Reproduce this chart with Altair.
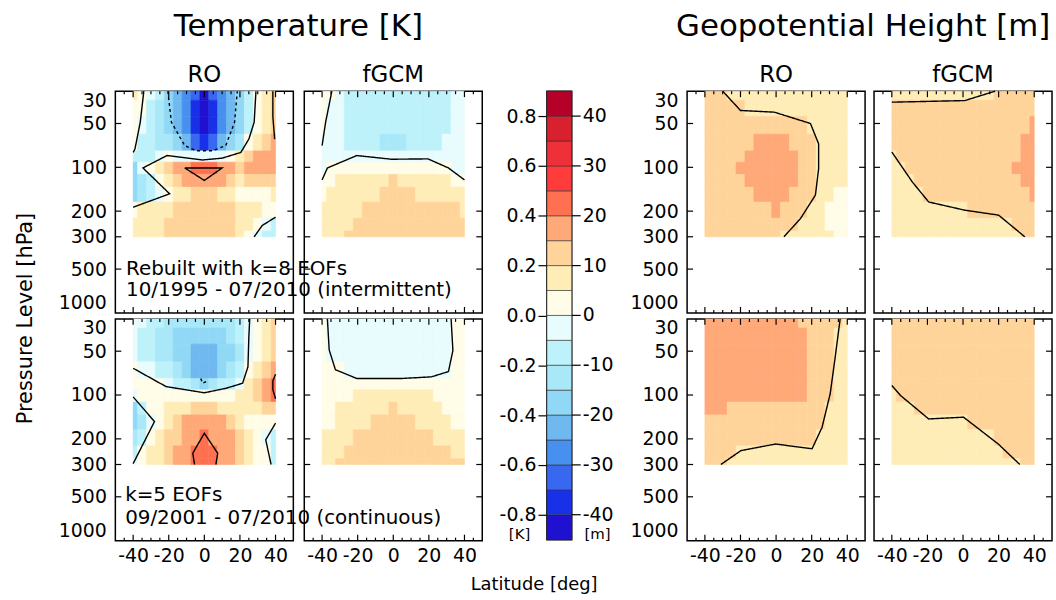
import altair as alt
import numpy as np
import pandas as pd

FONT = "DejaVu Sans"
W, H, GAP = 179, 223, 5
CB_W = 25

# ---- grid nodes ----
LATS = [-40, -35, -30, -25, -20, -15, -10, -5, 0, 5, 10, 15, 20, 25, 30, 35, 40]
PLEV = [30, 40, 50, 70, 85, 100, 125, 150, 200, 250, 300]

X_MAJOR = [-40, -20, 0, 20, 40]
X_MINOR = [-45, -35, -30, -25, -15, -10, -5, 5, 10, 15, 25, 30, 35, 45]
Y_MAJOR = [50, 100, 200, 300, 500]
Y_LABELS = [30, 50, 100, 200, 300, 500, 1000]

K_EDGES = [-0.9, -0.8, -0.7, -0.6, -0.5, -0.4, -0.3, -0.2, -0.1, 0.0,
           0.1, 0.2, 0.3, 0.4, 0.5, 0.6, 0.7, 0.8, 0.9]
M_EDGES = [-45, -40, -35, -30, -25, -20, -15, -10, -5, 0,
           5, 10, 15, 20, 25, 30, 35, 40, 45]
K_TICKS = [-0.8, -0.6, -0.4, -0.2, 0.0, 0.2, 0.4, 0.6, 0.8]
M_TICKS = [-40, -30, -20, -10, 0, 10, 20, 30, 40]
COLORS = ["#2010D0", "#1830E8", "#3868F0", "#4890F0", "#70B8F0", "#90D8F5",
          "#A8E8F8", "#BEF2FA", "#E8FCFE", "#FFFCE8", "#FFEDB8", "#FFD49A",
          "#FFA878", "#FF7050", "#FF3B3B", "#F03038", "#D8202F", "#B5002A"]

# ---- Temperature [K]; rows = PLEV, cols = LATS ----
T_RO_K8 = [
    [0.15, 0.05, -0.05, -0.15, -0.35, -0.45, -0.55, -0.65, -0.85, -0.65, -0.55, -0.45, -0.35, -0.15, 0.05, 0.15, 0.25],
    [0.05, 0.02, -0.15, -0.25, -0.35, -0.45, -0.55, -0.75, -0.85, -0.75, -0.55, -0.45, -0.35, -0.15, 0.05, 0.15, 0.25],
    [0.05, -0.05, -0.15, -0.25, -0.35, -0.45, -0.55, -0.75, -0.85, -0.75, -0.55, -0.45, -0.35, -0.15, 0.05, 0.15, 0.25],
    [0.02, -0.15, -0.15, -0.25, -0.25, -0.35, -0.45, -0.65, -0.75, -0.65, -0.45, -0.35, -0.25, 0.05, 0.15, 0.25, 0.35],
    [-0.15, -0.15, -0.15, -0.05, 0.05, -0.02, -0.05, -0.05, -0.05, -0.05, -0.02, 0.02, 0.15, 0.25, 0.35, 0.35, 0.35],
    [-0.35, -0.05, 0.05, 0.15, 0.25, 0.35, 0.35, 0.45, 0.45, 0.45, 0.35, 0.35, 0.25, 0.35, 0.35, 0.35, 0.35],
    [-0.35, -0.25, -0.15, 0.05, 0.15, 0.25, 0.35, 0.35, 0.35, 0.35, 0.35, 0.25, 0.15, 0.25, 0.25, 0.25, 0.25],
    [-0.35, -0.25, -0.15, -0.05, 0.02, 0.15, 0.15, 0.25, 0.25, 0.25, 0.15, 0.15, 0.05, 0.05, 0.05, 0.05, 0.15],
    [0.05, 0.15, 0.15, 0.15, 0.15, 0.25, 0.25, 0.25, 0.25, 0.25, 0.25, 0.25, 0.15, 0.15, 0.15, 0.05, 0.02],
    [0.15, 0.15, 0.15, 0.15, 0.25, 0.25, 0.25, 0.25, 0.25, 0.25, 0.25, 0.25, 0.15, 0.15, 0.05, -0.05, -0.15],
    [0.15, 0.15, 0.15, 0.15, 0.25, 0.25, 0.25, 0.25, 0.25, 0.25, 0.25, 0.25, 0.15, 0.05, -0.05, -0.15, -0.15],
]
T_FG_K8 = [
    [0.05, 0.02, -0.05, -0.15, -0.15, -0.15, -0.15, -0.15, -0.15, -0.15, -0.15, -0.15, -0.15, -0.15, -0.15, -0.05, -0.05],
    [0.05, -0.02, -0.05, -0.15, -0.15, -0.15, -0.15, -0.15, -0.15, -0.15, -0.15, -0.15, -0.15, -0.15, -0.15, -0.05, -0.05],
    [0.02, -0.05, -0.05, -0.15, -0.15, -0.15, -0.15, -0.15, -0.15, -0.15, -0.15, -0.15, -0.15, -0.15, -0.15, -0.05, -0.05],
    [-0.02, -0.05, -0.05, -0.15, -0.15, -0.15, -0.15, -0.25, -0.25, -0.25, -0.15, -0.15, -0.15, -0.15, -0.05, -0.05, -0.05],
    [-0.05, -0.05, -0.05, -0.05, -0.02, -0.05, -0.05, -0.05, -0.05, -0.05, -0.05, -0.05, -0.05, -0.05, -0.05, -0.05, -0.05],
    [-0.02, 0.02, 0.05, 0.05, 0.05, 0.05, 0.05, 0.05, 0.05, 0.05, 0.05, 0.05, 0.05, 0.05, 0.02, -0.05, -0.05],
    [0.02, 0.05, 0.15, 0.15, 0.15, 0.15, 0.15, 0.15, 0.25, 0.15, 0.15, 0.15, 0.15, 0.15, 0.15, 0.05, 0.02],
    [0.05, 0.15, 0.15, 0.15, 0.15, 0.15, 0.15, 0.25, 0.25, 0.25, 0.25, 0.15, 0.15, 0.15, 0.15, 0.15, 0.15],
    [0.15, 0.15, 0.15, 0.15, 0.15, 0.25, 0.25, 0.25, 0.25, 0.25, 0.25, 0.25, 0.25, 0.25, 0.25, 0.25, 0.15],
    [0.15, 0.15, 0.15, 0.15, 0.25, 0.25, 0.25, 0.25, 0.25, 0.25, 0.25, 0.25, 0.25, 0.25, 0.25, 0.25, 0.25],
    [0.15, 0.15, 0.15, 0.25, 0.25, 0.25, 0.25, 0.25, 0.25, 0.25, 0.25, 0.25, 0.25, 0.25, 0.25, 0.25, 0.25],
]
T_RO_K5 = [
    [-0.05, -0.05, -0.15, -0.15, -0.25, -0.25, -0.25, -0.25, -0.25, -0.25, -0.25, -0.25, -0.15, -0.02, 0.05, 0.15, 0.25],
    [-0.05, -0.15, -0.15, -0.25, -0.25, -0.35, -0.35, -0.35, -0.35, -0.35, -0.35, -0.25, -0.15, -0.02, 0.05, 0.15, 0.25],
    [-0.05, -0.15, -0.15, -0.25, -0.25, -0.35, -0.35, -0.45, -0.45, -0.45, -0.35, -0.35, -0.25, -0.02, 0.05, 0.15, 0.25],
    [0.02, -0.02, -0.05, -0.15, -0.15, -0.25, -0.35, -0.45, -0.45, -0.45, -0.35, -0.25, -0.15, 0.05, 0.15, 0.25, 0.35],
    [0.05, 0.05, 0.05, 0.02, -0.05, -0.15, -0.15, -0.25, -0.35, -0.25, -0.15, -0.15, -0.02, 0.15, 0.25, 0.35, 0.45],
    [-0.02, 0.05, 0.05, 0.05, 0.05, 0.05, 0.05, 0.05, 0.02, 0.05, 0.05, 0.05, 0.15, 0.15, 0.25, 0.35, 0.45],
    [-0.35, -0.15, 0.05, 0.05, 0.15, 0.15, 0.15, 0.25, 0.25, 0.25, 0.15, 0.15, 0.15, 0.15, 0.15, 0.25, 0.25],
    [-0.35, -0.25, -0.05, 0.05, 0.15, 0.25, 0.35, 0.35, 0.35, 0.35, 0.35, 0.25, 0.15, 0.05, 0.05, 0.05, 0.02],
    [-0.25, -0.15, 0.05, 0.15, 0.25, 0.25, 0.35, 0.35, 0.45, 0.35, 0.35, 0.35, 0.25, 0.15, 0.05, -0.02, -0.15],
    [-0.15, 0.05, 0.15, 0.15, 0.25, 0.35, 0.35, 0.45, 0.45, 0.45, 0.35, 0.35, 0.25, 0.15, 0.05, 0.02, -0.15],
    [-0.02, 0.05, 0.15, 0.15, 0.25, 0.35, 0.35, 0.45, 0.45, 0.45, 0.35, 0.35, 0.25, 0.15, 0.05, 0.05, -0.15],
]
T_FG_K5 = [
    [0.05, -0.05, -0.05, -0.05, -0.05, -0.05, -0.05, -0.05, -0.05, -0.05, -0.05, -0.05, -0.05, -0.05, -0.05, 0.05, 0.05],
    [0.05, -0.05, -0.05, -0.05, -0.05, -0.05, -0.05, -0.05, -0.05, -0.05, -0.05, -0.05, -0.05, -0.05, -0.05, 0.05, 0.05],
    [0.05, -0.02, -0.05, -0.05, -0.05, -0.05, -0.05, -0.05, -0.05, -0.05, -0.05, -0.05, -0.05, -0.05, -0.05, 0.02, 0.05],
    [0.05, 0.05, 0.02, -0.02, -0.05, -0.05, -0.05, -0.05, -0.05, -0.05, -0.05, -0.05, -0.05, -0.05, -0.02, 0.05, 0.05],
    [0.05, 0.05, 0.05, 0.05, 0.05, 0.05, 0.05, 0.05, 0.05, 0.05, 0.05, 0.05, 0.05, 0.05, 0.05, 0.05, 0.05],
    [0.05, 0.05, 0.05, 0.05, 0.15, 0.15, 0.15, 0.15, 0.15, 0.15, 0.15, 0.15, 0.15, 0.05, 0.05, 0.05, 0.05],
    [0.05, 0.05, 0.15, 0.15, 0.15, 0.15, 0.15, 0.15, 0.25, 0.15, 0.15, 0.15, 0.15, 0.15, 0.05, 0.05, 0.05],
    [0.05, 0.05, 0.15, 0.15, 0.15, 0.15, 0.25, 0.25, 0.25, 0.25, 0.25, 0.15, 0.15, 0.15, 0.15, 0.05, 0.05],
    [0.15, 0.15, 0.15, 0.15, 0.25, 0.25, 0.25, 0.25, 0.25, 0.25, 0.25, 0.25, 0.25, 0.15, 0.15, 0.15, 0.15],
    [0.15, 0.15, 0.15, 0.25, 0.25, 0.25, 0.25, 0.25, 0.25, 0.25, 0.25, 0.25, 0.25, 0.25, 0.25, 0.15, 0.15],
    [0.15, 0.15, 0.25, 0.25, 0.25, 0.25, 0.25, 0.25, 0.25, 0.25, 0.25, 0.25, 0.25, 0.25, 0.25, 0.25, 0.25],
]

# ---- Geopotential height [m] ----
G_RO_K8 = [
    [12.5, 12.5, 10.2, 7.5, 7.5, 7.5, 7.5, 7.5, 7.5, 7.5, 7.5, 7.5, 7.5, 7.5, 7.5, 7.5, 7.5],
    [12.5, 12.5, 12.5, 12.5, 10.2, 7.5, 7.5, 7.5, 7.5, 7.5, 7.5, 7.5, 7.5, 7.5, 7.5, 7.5, 7.5],
    [12.5, 12.5, 12.5, 12.5, 12.5, 12.5, 12.5, 12.5, 12.5, 12.5, 12.5, 12.5, 9.8, 7.5, 7.5, 7.5, 7.5],
    [12.5, 12.5, 12.5, 12.5, 12.5, 12.5, 17.5, 17.5, 17.5, 15.2, 12.5, 12.5, 12.5, 7.5, 7.5, 7.5, 7.5],
    [12.5, 12.5, 12.5, 12.5, 14.8, 17.5, 17.5, 17.5, 17.5, 17.5, 15.2, 12.5, 12.5, 7.5, 7.5, 7.5, 7.5],
    [12.5, 12.5, 12.5, 12.5, 17.5, 17.5, 17.5, 17.5, 17.5, 17.5, 15.2, 12.5, 12.5, 7.5, 7.5, 7.5, 7.5],
    [12.5, 12.5, 12.5, 12.5, 14.8, 17.5, 17.5, 17.5, 17.5, 17.5, 15.2, 12.5, 12.5, 7.5, 7.5, 7.5, 7.5],
    [12.5, 12.5, 12.5, 12.5, 12.5, 12.5, 17.5, 17.5, 17.5, 17.5, 12.5, 12.5, 12.5, 7.5, 7.5, 2.5, 2.5],
    [12.5, 12.5, 12.5, 12.5, 12.5, 12.5, 12.5, 12.5, 15.2, 12.5, 12.5, 10.2, 7.5, 7.5, 2.5, 2.5, 2.5],
    [12.5, 12.5, 12.5, 12.5, 12.5, 12.5, 12.5, 12.5, 12.5, 12.5, 10.2, 7.5, 7.5, 7.5, 2.5, 2.5, 2.5],
    [12.5, 12.5, 12.5, 12.5, 12.5, 12.5, 12.5, 12.5, 12.5, 9.8, 7.5, 7.5, 7.5, 7.5, 7.5, 2.5, 2.5],
]
G_FG_K8 = [
    [7.5, 7.5, 7.5, 7.5, 7.5, 7.5, 7.5, 7.5, 7.5, 7.5, 7.5, 7.5, 12.5, 12.5, 12.5, 12.5, 12.5],
    [12.5, 12.5, 12.5, 12.5, 12.5, 12.5, 12.5, 12.5, 12.5, 12.5, 12.5, 12.5, 12.5, 12.5, 12.5, 12.5, 12.5],
    [12.5, 12.5, 12.5, 12.5, 12.5, 12.5, 12.5, 12.5, 12.5, 12.5, 12.5, 12.5, 12.5, 12.5, 12.5, 12.5, 15.2],
    [10.2, 12.5, 12.5, 12.5, 12.5, 12.5, 12.5, 12.5, 12.5, 12.5, 12.5, 12.5, 12.5, 12.5, 12.5, 15.2, 17.5],
    [9.8, 12.5, 12.5, 12.5, 12.5, 12.5, 12.5, 12.5, 12.5, 12.5, 12.5, 12.5, 12.5, 12.5, 12.5, 17.5, 17.5],
    [7.5, 9.8, 12.5, 12.5, 12.5, 12.5, 12.5, 12.5, 12.5, 12.5, 12.5, 12.5, 12.5, 12.5, 15.2, 17.5, 17.5],
    [7.5, 7.5, 9.8, 12.5, 12.5, 12.5, 12.5, 12.5, 12.5, 12.5, 12.5, 12.5, 12.5, 12.5, 12.5, 15.2, 17.5],
    [7.5, 7.5, 7.5, 9.8, 12.5, 12.5, 12.5, 12.5, 12.5, 12.5, 12.5, 12.5, 12.5, 12.5, 12.5, 12.5, 17.5],
    [7.5, 7.5, 7.5, 7.5, 7.5, 7.5, 7.5, 7.5, 9.8, 10.2, 12.5, 12.5, 12.5, 12.5, 12.5, 12.5, 12.5],
    [7.5, 7.5, 7.5, 7.5, 7.5, 7.5, 7.5, 7.5, 7.5, 7.5, 7.5, 7.5, 7.5, 9.8, 12.5, 12.5, 12.5],
    [7.5, 7.5, 7.5, 7.5, 7.5, 7.5, 7.5, 7.5, 7.5, 7.5, 7.5, 7.5, 7.5, 7.5, 7.5, 10.2, 12.5],
]
G_RO_K5 = [
    [17.5, 17.5, 17.5, 17.5, 17.5, 17.5, 17.5, 17.5, 17.5, 17.5, 15.2, 12.5, 12.5, 12.5, 12.5, 10.2, 7.5],
    [17.5, 17.5, 17.5, 17.5, 17.5, 17.5, 17.5, 17.5, 17.5, 17.5, 17.5, 15.2, 12.5, 12.5, 12.5, 9.8, 7.5],
    [17.5, 17.5, 17.5, 17.5, 17.5, 17.5, 17.5, 17.5, 17.5, 17.5, 17.5, 17.5, 14.8, 12.5, 12.5, 7.5, 7.5],
    [17.5, 17.5, 17.5, 17.5, 17.5, 17.5, 17.5, 17.5, 17.5, 17.5, 17.5, 17.5, 14.8, 12.5, 12.5, 7.5, 7.5],
    [17.5, 17.5, 17.5, 17.5, 17.5, 17.5, 17.5, 17.5, 17.5, 17.5, 17.5, 17.5, 14.8, 12.5, 10.2, 7.5, 7.5],
    [17.5, 17.5, 17.5, 17.5, 17.5, 17.5, 17.5, 17.5, 17.5, 17.5, 17.5, 15.2, 14.8, 12.5, 10.2, 7.5, 7.5],
    [17.5, 17.5, 15.2, 12.5, 12.5, 12.5, 12.5, 12.5, 12.5, 12.5, 12.5, 12.5, 12.5, 12.5, 7.5, 7.5, 7.5],
    [14.8, 12.5, 12.5, 12.5, 12.5, 12.5, 12.5, 12.5, 12.5, 12.5, 12.5, 12.5, 12.5, 10.2, 7.5, 7.5, 7.5],
    [12.5, 12.5, 12.5, 12.5, 12.5, 12.5, 12.5, 12.5, 12.5, 12.5, 12.5, 12.5, 12.5, 7.5, 7.5, 7.5, 7.5],
    [12.5, 12.5, 12.5, 12.5, 9.8, 7.5, 7.5, 7.5, 7.5, 7.5, 7.5, 7.5, 7.5, 7.5, 7.5, 7.5, 7.5],
    [12.5, 12.5, 10.2, 7.5, 7.5, 7.5, 7.5, 7.5, 7.5, 7.5, 7.5, 7.5, 7.5, 7.5, 7.5, 7.5, 7.5],
]
G_FG_K5 = [
    [12.5, 12.5, 12.5, 12.5, 12.5, 12.5, 12.5, 12.5, 12.5, 12.5, 12.5, 12.5, 12.5, 12.5, 12.5, 12.5, 12.5],
    [12.5, 12.5, 12.5, 12.5, 12.5, 12.5, 12.5, 12.5, 12.5, 12.5, 12.5, 12.5, 12.5, 12.5, 12.5, 12.5, 12.5],
    [12.5, 12.5, 12.5, 12.5, 12.5, 12.5, 12.5, 12.5, 12.5, 12.5, 12.5, 12.5, 12.5, 12.5, 12.5, 12.5, 12.5],
    [12.5, 12.5, 12.5, 12.5, 12.5, 12.5, 12.5, 12.5, 12.5, 12.5, 12.5, 12.5, 12.5, 12.5, 12.5, 12.5, 12.5],
    [10.2, 12.5, 12.5, 12.5, 12.5, 12.5, 12.5, 12.5, 12.5, 12.5, 12.5, 12.5, 12.5, 12.5, 12.5, 12.5, 12.5],
    [7.5, 10.2, 12.5, 12.5, 12.5, 12.5, 12.5, 12.5, 12.5, 12.5, 12.5, 12.5, 12.5, 12.5, 12.5, 12.5, 12.5],
    [7.5, 7.5, 9.8, 10.2, 12.5, 12.5, 12.5, 12.5, 12.5, 12.5, 12.5, 12.5, 12.5, 12.5, 12.5, 12.5, 12.5],
    [7.5, 7.5, 7.5, 7.5, 9.8, 9.8, 9.8, 9.8, 9.8, 10.2, 12.5, 12.5, 12.5, 12.5, 12.5, 12.5, 12.5],
    [7.5, 7.5, 7.5, 7.5, 7.5, 7.5, 7.5, 7.5, 7.5, 7.5, 9.8, 9.8, 10.2, 12.5, 12.5, 12.5, 12.5],
    [7.5, 7.5, 7.5, 7.5, 7.5, 7.5, 7.5, 7.5, 7.5, 7.5, 7.5, 7.5, 7.5, 10.2, 12.5, 12.5, 12.5],
    [7.5, 7.5, 7.5, 7.5, 7.5, 7.5, 7.5, 7.5, 7.5, 7.5, 7.5, 7.5, 7.5, 7.5, 9.8, 12.5, 12.5],
]

# ---- contour lines (lat, hPa) ----
A_LINES = [
    ("solid", [(-34, 30), (-36, 49), (-39, 75), (-40, 79)]),
    ("solid", [(29, 30), (28, 49), (25, 64), (20.5, 79), (10, 86.5), (-1, 89),
               (-21, 83), (-34.5, 101), (-19.5, 152), (-40, 188)]),
    ("dashed", [(-20.5, 30), (-18.5, 49), (-11, 71), (-4.5, 77), (4.5, 77),
                (12, 71), (17, 49), (18.5, 30)]),
    ("solid", [(-11, 101), (10, 101), (0, 123), (-11, 101)]),
    ("solid", [(28, 300), (32.5, 251), (40, 220)]),
    ("solid", [(38.5, 30), (38.5, 45), (39.5, 64)]),
]
B_LINES = [
    ("solid", [(-34.5, 30), (-38, 49), (-40, 71)]),
    ("solid", [(-40, 122), (-37, 101), (-20.5, 83), (-1, 88), (19.5, 87.5),
               (31, 101), (40, 122)]),
]
C_LINES = [
    ("solid", [(-40, 65.5), (-21.5, 87.5), (0, 96.5), (12, 90), (21.5, 83),
               (24.5, 64), (25, 40), (25.5, 30)]),
    ("solid", [(-40, 103), (-28, 152), (-40, 296)]),
    ("solid", [(-5.5, 300), (-6.5, 251), (0, 183), (7.5, 251), (6.5, 300)]),
    ("solid", [(40, 156), (34.5, 203), (37.5, 300)]),
    ("solid", [(40, 72), (38.5, 80), (38.5, 92), (40, 106)]),
    ("dashed", [(-2, 77), (-1, 83), (1, 81)]),
]
D_LINES = [
    ("solid", [(-37, 30), (-36, 49), (-32.5, 67), (-20.5, 77), (4.5, 77),
               (21.5, 75), (31, 69), (33.5, 49.5), (32.5, 30)]),
]
E_LINES = [
    ("solid", [(-30, 30), (-20, 40.7), (-1, 41.8), (19.3, 50), (23.9, 69),
               (23.9, 102), (22.1, 155), (13.7, 225), (4.4, 300)]),
]
F_LINES = [
    ("solid", [(-40, 35.7), (1, 34.8), (18, 30)]),
    ("solid", [(-40, 78.5), (-28.5, 126), (-19.3, 173), (1, 197), (20, 213),
               (34.7, 300)]),
]
G_LINES = [
    ("solid", [(-31, 300), (-19.8, 241), (-0.3, 217), (20.2, 234), (25.8, 167),
               (30.4, 98), (33.2, 55), (36, 30)]),
]
H_LINES = [
    ("solid", [(-40, 86), (-35, 101), (-19.3, 146), (0.3, 142), (19.8, 217),
               (31.9, 300)]),
]

NOTES_K8 = [(-44, 500, "Rebuilt with k=8 EOFs"),
            (-44, 700, "10/1995 - 07/2010 (intermittent)")]
NOTES_K5 = [(-44.5, 490, "k=5 EOFs"),
            (-44.5, 700, "09/2001 - 07/2010 (continuous)")]

MINUS = "\u2212"


def lat_edges():
    mids = [(a + b) / 2 for a, b in zip(LATS[:-1], LATS[1:])]
    return [LATS[0]] + mids + [LATS[-1]]


def p_edges():
    mids = [float(np.sqrt(a * b)) for a, b in zip(PLEV[:-1], PLEV[1:])]
    return [PLEV[0]] + mids + [PLEV[-1]]


def panel(grid, lines, kind, title=None, xlab=False, ylab=False, notes=None):
    le, pe = lat_edges(), p_edges()
    recs = []
    for i, row in enumerate(grid):
        for j, v in enumerate(row):
            recs.append({"lat0": le[j], "lat1": le[j + 1],
                         "p0": pe[i], "p1": pe[i + 1], "v": v})
    cells = pd.DataFrame(recs)
    thr = K_EDGES[1:-1] if kind == "T" else M_EDGES[1:-1]
    cscale = alt.Scale(type="threshold", domain=thr, range=COLORS)
    xs = alt.Scale(domain=[-50, 50], nice=False, zero=False)
    ys = alt.Scale(type="log", domain=[30, 1000], reverse=True, nice=False)
    if xlab:
        xa = alt.Axis(values=X_MAJOR, ticks=False, tickSize=0, domain=False,
                      grid=False, labelFont=FONT, labelFontSize=19,
                      labelColor="black", labelPadding=6, labelOverlap=False,
                      labelExpr="replace(datum.label, '%s', '-')" % MINUS,
                      title=None)
    else:
        xa = None
    if ylab:
        ya = alt.Axis(values=Y_LABELS, format="d", ticks=False, tickSize=0,
                      domain=False, grid=False, labelFont=FONT,
                      labelFontSize=19, labelColor="black", labelPadding=9,
                      labelOverlap=False, labelFlush=True, title=None)
    else:
        ya = None

    def X(f):
        return alt.X(f, type="quantitative", scale=xs, axis=xa)

    def Y(f):
        return alt.Y(f, type="quantitative", scale=ys, axis=ya)

    layers = [
        alt.Chart(cells).mark_rect(strokeWidth=0.6).encode(
            x=X("lat0"), x2="lat1", y=Y("p0"), y2="p1",
            color=alt.Color("v:Q", scale=cscale, legend=None),
            stroke=alt.Stroke("v:Q", scale=cscale, legend=None),
        )
    ]
    lrec = []
    for k, (style, pts) in enumerate(lines):
        for i, (la, p) in enumerate(pts):
            lrec.append({"id": k, "i": i, "lat": la, "p": p, "dash": style})
    layers.append(
        alt.Chart(pd.DataFrame(lrec)).mark_line(color="black", strokeWidth=1.4).encode(
            x=X("lat"), y=Y("p"), detail="id:N", order="i:Q",
            strokeDash=alt.StrokeDash("dash:N", scale=alt.Scale(
                domain=["solid", "dashed"], range=[[1, 0], [3, 3]]), legend=None),
        )
    )
    xmaj = pd.DataFrame({"lat": X_MAJOR})
    xmin = pd.DataFrame({"lat": X_MINOR})
    ymaj = pd.DataFrame({"p": Y_MAJOR})

    def rule(df):
        return alt.Chart(df).mark_rule(color="black", strokeWidth=1.2)

    layers += [
        rule(xmaj).encode(x=X("lat"), y=alt.value(H), y2=alt.value(H - 6)),
        rule(xmaj).encode(x=X("lat"), y=alt.value(0), y2=alt.value(6)),
        rule(xmin).encode(x=X("lat"), y=alt.value(H), y2=alt.value(H - 3)),
        rule(xmin).encode(x=X("lat"), y=alt.value(0), y2=alt.value(3)),
        rule(ymaj).encode(y=Y("p"), x=alt.value(0), x2=alt.value(6)),
        rule(ymaj).encode(y=Y("p"), x=alt.value(W), x2=alt.value(W - 6)),
    ]
    if notes:
        ndf = pd.DataFrame({"lat": [n[0] for n in notes],
                            "p": [n[1] for n in notes],
                            "t": [n[2] for n in notes]})
        layers.append(
            alt.Chart(ndf).mark_text(align="left", baseline="middle",
                                     font=FONT, fontSize=20, color="black").encode(
                x=X("lat"), y=Y("p"), text="t:N")
        )
    ch = alt.layer(*layers).properties(width=W, height=H)
    if title:
        ch = ch.properties(title=alt.TitleParams(
            title, font=FONT, fontSize=23, fontWeight="normal", color="black",
            frame="group", anchor="middle", offset=1))
    return ch


def indep(c):
    return c.resolve_scale(color="independent", stroke="independent")


A = panel(T_RO_K8, A_LINES, "T", title="RO", ylab=True, notes=NOTES_K8)
B = panel(T_FG_K8, B_LINES, "T", title="fGCM")
C = panel(T_RO_K5, C_LINES, "T", xlab=True, ylab=True, notes=NOTES_K5)
D = panel(T_FG_K5, D_LINES, "T", xlab=True)
E = panel(G_RO_K8, E_LINES, "G", title="RO", ylab=True)
F = panel(G_FG_K8, F_LINES, "G", title="fGCM")
G = panel(G_RO_K5, G_LINES, "G", xlab=True, ylab=True)
Hh = panel(G_FG_K5, H_LINES, "G", xlab=True)

rowT1 = indep(alt.hconcat(A, B, spacing=11, bounds="flush").properties(
    title=alt.TitleParams("Temperature [K]", font=FONT, fontSize=31,
                          fontWeight="normal", color="black", offset=21,
                          anchor="middle", dx=28)))
rowT2 = indep(alt.hconcat(C, D, spacing=11, bounds="flush"))
t_block = indep(alt.vconcat(rowT1, rowT2, spacing=0).properties(
    title=alt.TitleParams("Pressure Level [hPa]", orient="left", font=FONT,
                          fontSize=21, fontWeight="normal", color="black",
                          offset=22, anchor="middle", dx=-30)))

rowG1 = indep(alt.hconcat(E, F, spacing=9, bounds="flush").properties(
    title=alt.TitleParams("Geopotential Height [m]", font=FONT, fontSize=31,
                          fontWeight="normal", color="black", offset=21,
                          anchor="middle", dx=22)))
rowG2 = indep(alt.hconcat(G, Hh, spacing=9, bounds="flush"))
g_block = indep(alt.vconcat(rowG1, rowG2, spacing=0))

# ---- colour bar ----
HB = 2 * H + GAP
cbk = pd.DataFrame({"lo": K_EDGES[:-1], "hi": K_EDGES[1:], "col": COLORS})
cbr = pd.DataFrame({"k": K_TICKS, "m": [str(v) for v in M_TICKS]})
kax = alt.Axis(values=K_TICKS, tickSize=9, tickWidth=1.2, tickColor="black",
               domain=False, grid=False, labelFont=FONT, labelFontSize=19,
               labelColor="black", labelPadding=2, labelOverlap=False,
               labelExpr="replace(format(datum.value, '.1f'), '%s', '-')" % MINUS,
               title="[K]", titleFont=FONT, titleFontSize=15,
               titleFontWeight="normal", titleColor="black", titleAngle=0,
               titleX=-28, titleY=HB - 6, titleAlign="center",
               titleBaseline="middle")
kscale = alt.Scale(domain=[-0.9, 0.9], nice=False, zero=False)
cb_rects = alt.Chart(cbk).mark_rect(stroke="#333333", strokeWidth=0.6).encode(
    x=alt.value(0), x2=alt.value(CB_W),
    y=alt.Y("lo:Q", scale=kscale, axis=kax),
    y2="hi:Q",
    color=alt.Color("col:N", scale=None),
)
cb_rticks = alt.Chart(cbr).mark_rule(color="black", strokeWidth=1.2).encode(
    y=alt.Y("k:Q", scale=kscale, axis=kax),
    x=alt.value(CB_W), x2=alt.value(CB_W + 9),
)
cb_rlabels = alt.Chart(cbr).mark_text(align="left", baseline="middle", font=FONT,
                                      fontSize=19, color="black").encode(
    y=alt.Y("k:Q", scale=kscale, axis=kax),
    x=alt.value(CB_W + 11), text="m:N",
)
cb_unit = alt.Chart(pd.DataFrame({"t": ["[m]"]})).mark_text(
    align="center", baseline="middle", font=FONT, fontSize=15,
    color="black").encode(x=alt.value(CB_W + 26), y=alt.value(HB - 6), text="t:N")
cb = alt.layer(cb_rects, cb_rticks, cb_rlabels, cb_unit).properties(
    width=CB_W, height=HB,
    title=alt.TitleParams(" ", font=FONT, fontSize=31, fontWeight="normal",
                          offset=45))

chart = indep(alt.hconcat(t_block, cb, g_block, spacing=14)).properties(
    title=alt.TitleParams("Latitude [deg]", orient="bottom", font=FONT,
                          fontSize=18, fontWeight="normal", color="black",
                          offset=10, anchor="middle"),
    padding={"left": 14, "top": 9, "right": 2, "bottom": 4},
).configure_view(stroke="black", strokeWidth=1.5)

chart.save("out.html", embed_options={"renderer": "svg", "actions": False})
